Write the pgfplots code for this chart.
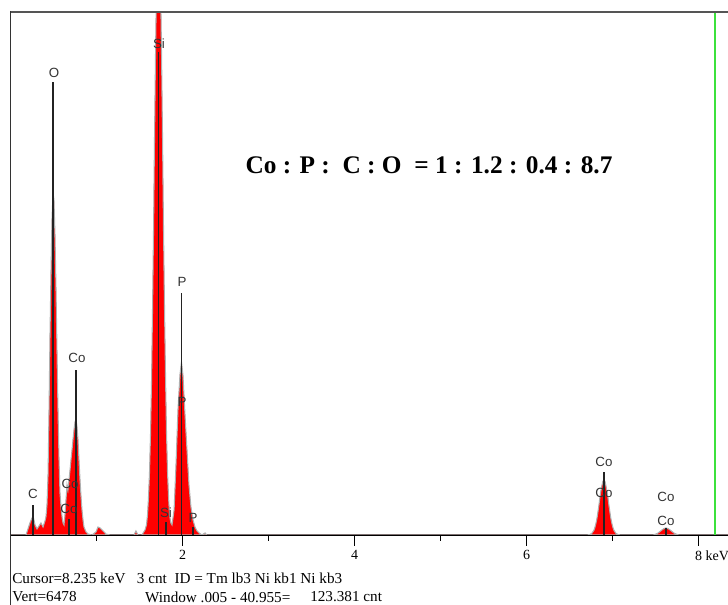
\documentclass[border=0pt]{standalone}
\usepackage{fontspec}
\setmainfont{Liberation Serif}
\newfontfamily\labelfont{Liberation Sans}
\usepackage{pgfplots}
\usepackage{pgfplotstable}
\pgfplotsset{compat=1.18}

\definecolor{specred}{RGB}{255,0,0}
\definecolor{outline}{RGB}{175,175,175}
\definecolor{marker}{RGB}{35,35,35}
\definecolor{cursor}{RGB}{60,225,60}
\definecolor{frame}{RGB}{85,85,85}
\tikzset{lbl/.style={font=\labelfont\fontsize{10}{12}\selectfont, text=black!80, inner sep=0.5pt}}

% EDS spectrum, counts per channel (keV)
\pgfplotstableread{
keV counts
0.003 0
0.178 0
0.201 74
0.224 149
0.248 211
0.265 211
0.283 124
0.306 74
0.329 111
0.352 149
0.376 99
0.399 173
0.410 223
0.422 372
0.434 743
0.445 1486
0.457 2477
0.469 3282
0.480 3902
0.492 4236
0.503 4149
0.515 3716
0.527 3035
0.538 2291
0.550 1548
0.562 929
0.573 520
0.585 347
0.597 223
0.608 149
0.620 124
0.631 248
0.643 434
0.655 619
0.666 557
0.678 681
0.690 805
0.701 929
0.713 1053
0.724 1177
0.736 1301
0.748 1400
0.759 1437
0.771 1338
0.783 1177
0.794 929
0.806 681
0.818 471
0.829 310
0.841 186
0.852 99
0.876 37
0.899 12
0.945 0
0.992 37
1.015 99
1.038 87
1.073 50
1.108 12
1.155 0
1.434 0
1.456 50
1.480 0
1.526 0
1.562 62
1.579 124
1.591 248
1.602 458
1.614 768
1.626 1251
1.638 1920
1.649 2774
1.661 3778
1.672 4880
1.684 5945
1.696 6862
1.707 7469
1.719 7679
1.731 7469
1.742 6862
1.754 5945
1.766 4880
1.777 3778
1.789 2774
1.801 1920
1.812 1251
1.824 768
1.836 458
1.847 248
1.862 149
1.876 124
1.900 310
1.922 867
1.945 1548
1.968 1982
1.986 2143
2.003 1982
2.027 1486
2.050 1053
2.073 619
2.096 347
2.120 186
2.143 99
2.166 50
2.190 25
2.224 0
2.260 25
2.280 0
6.700 0
6.735 6
6.758 20
6.782 58
6.793 92
6.805 140
6.817 203
6.828 280
6.840 368
6.851 463
6.863 545
6.875 613
6.886 665
6.898 681
6.910 665
6.921 613
6.933 545
6.945 463
6.956 368
6.968 280
6.979 203
6.991 140
7.003 92
7.014 58
7.038 20
7.061 6
7.090 0
7.469 0
7.504 11
7.527 24
7.550 42
7.573 62
7.597 79
7.620 87
7.643 79
7.667 62
7.690 42
7.713 24
7.736 11
7.771 0
8.341 0
}\spectrum

% element marker lines (position, height)
\pgfplotstableread{
keV top
0.259 372
0.492 5611
0.678 198
0.759 2044
1.719 5982
1.806 161
1.988 2997
2.120 99
6.898 780
7.620 87
}\markers

\begin{document}
\begin{tikzpicture}
\path[use as bounding box] (-8.025pt,-52.5pt) rectangle (538pt,401.25pt);
\begin{axis}[
  scale only axis,
  width=538pt, height=392.25pt,
  xmin=0, xmax=8.341, ymin=0, ymax=6478,
  axis x line*=bottom, axis y line*=left,
  y axis line style={draw=none},
  x axis line style={black, line width=1.1pt},
  ytick=\empty,
  xtick={2,4,6,8},
  xticklabels={2,4,6,8\rlap{\ keV}},
  minor xtick={1,3,5,7},
  xtick align=outside,
  major tick length=8.25pt, minor tick length=4.5pt,
  every tick/.style={black, line width=1pt},
  xticklabel style={font=\fontsize{10.5}{12}\selectfont},
  /pgf/number format/assume math mode=true,
]
\addplot[fill=specred, draw=outline, line width=0.8pt] table[x=keV, y=counts] {\spectrum} \closedcycle;
\addplot[ycomb, no marks, marker, line width=0.9pt] table[x=keV, y=top] {\markers};
\addplot[cursor, line width=1.2pt] coordinates {(8.193,0) (8.193,6478)};

\node[lbl] at (axis cs:0.259,508) {C};
\node[lbl] at (axis cs:0.503,5722) {O};
\node[lbl] at (axis cs:0.771,2192) {Co};
\node[lbl] at (axis cs:0.690,632) {Co};
\node[lbl] at (axis cs:0.678,322) {Co};
\node[lbl] at (axis cs:1.724,6081) {Si};
\node[lbl] at (axis cs:1.806,272) {Si};
\node[lbl] at (axis cs:1.992,3134) {P};
\node[lbl] at (axis cs:1.992,1647) {P};
\node[lbl] at (axis cs:2.120,211) {P};
\node[lbl] at (axis cs:6.898,904) {Co};
\node[lbl] at (axis cs:6.898,520) {Co};
\node[lbl] at (axis cs:7.620,471) {Co};
\node[lbl] at (axis cs:7.620,173) {Co};

\node[font=\bfseries\fontsize{19}{22}\selectfont] at (axis cs:4.864,4583)
  {Co : P :\ \ C : O\ \ = 1 : 1.2 : 0.4 : 8.7};
\end{axis}
\draw[frame, line width=1.5pt] (0,392.25pt) -- (538pt,392.25pt);
\draw[black!80, line width=1.1pt] (0,393pt) -- (0,-52.5pt);
\begin{scope}[every node/.style={anchor=west, inner sep=0pt, font=\fontsize{11.4}{13}\selectfont}]
\node at (1pt,-32.25pt) {Cursor=8.235 keV\ \ \ 3 cnt\ \ ID = Tm lb3 Ni kb1 Ni kb3};
\node at (1pt,-46.5pt) {Vert=6478};
\node at (100.7pt,-46.5pt) {Window .005 - 40.955=};
\node at (224.5pt,-46.5pt) {123.381 cnt};
\end{scope}
\end{tikzpicture}
\end{document}
